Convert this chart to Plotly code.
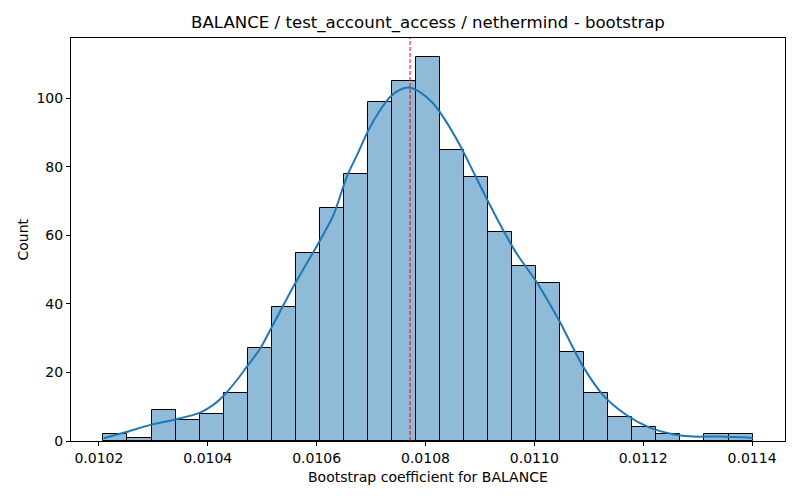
import numpy as np
import plotly.graph_objects as go

# histogram counts (27 bins)
counts = [2, 1, 9, 6, 8, 14, 27, 39, 55, 68, 78, 99, 105, 112,
          85, 77, 61, 51, 46, 26, 14, 7, 4, 2, 0, 2, 2]
bin_lo = 0.0102083
bin_hi = 0.0114009

# kde curve
kde_x = [0.0102088, 0.0102517, 0.0102945, 0.0103404, 0.0103862, 0.0104107,
         0.0104290, 0.0104536, 0.0104719, 0.0104964, 0.0105178, 0.0105606,
         0.0106064, 0.0106308, 0.0106554, 0.0106767, 0.0106951, 0.0107165,
         0.0107349, 0.0107532, 0.0107716, 0.0107899, 0.0108143, 0.0108327,
         0.0108633, 0.0108908, 0.0109153, 0.0109428, 0.0109674, 0.0110041,
         0.0110224, 0.0110468, 0.0110896, 0.0111262, 0.0111692, 0.0112120,
         0.0112547, 0.0112914, 0.0113404, 0.0114009]
kde_y = [0.8, 2.7, 4.7, 6.3, 8.3, 10.6, 13.2, 17.8, 21.7, 27.0, 33.3, 46.0,
         58.6, 65.9, 77.1, 84.3, 90.7, 96.5, 100.4, 102.5, 103.1, 101.8,
         98.5, 94.5, 86.3, 77.6, 69.8, 61.5, 54.7, 46.4, 41.6, 34.8, 21.7,
         13.4, 7.6, 3.9, 2.0, 1.3, 1.3, 0.9]

mean_coef = 0.0107716
x_ticks = [0.0102, 0.0104, 0.0106, 0.0108, 0.0110, 0.0112, 0.0114]
y_ticks = [0, 20, 40, 60, 80, 100]

edges = np.linspace(bin_lo, bin_hi, len(counts) + 1)
centers = (edges[:-1] + edges[1:]) / 2
width = edges[1] - edges[0]

fig = go.Figure()
fig.add_trace(go.Bar(x=centers, y=counts, width=width,
                     marker=dict(color="rgba(31,119,180,0.5)",
                                 line=dict(color="black", width=1)),
                     showlegend=False))
fig.add_trace(go.Scatter(x=kde_x, y=kde_y, mode="lines",
                         line=dict(color="#1f77b4", width=2,
                                   shape="spline", smoothing=0.8),
                         showlegend=False))
fig.add_shape(type="line", x0=mean_coef, x1=mean_coef, y0=0, y1=1,
              xref="x", yref="paper",
              line=dict(color="red", width=1, dash="4px,2px"))

# axis titles placed like matplotlib's
fig.add_annotation(text="Bootstrap coefficient for BALANCE",
                   xref="paper", yref="paper", x=0.5, y=-0.089,
                   xanchor="center", yanchor="middle", showarrow=False,
                   font=dict(size=14))
fig.add_annotation(text="Count", textangle=-90,
                   xref="paper", yref="paper", x=-0.0686, y=0.5,
                   xanchor="center", yanchor="middle", showarrow=False,
                   font=dict(size=14))

span = bin_hi - bin_lo
fig.update_layout(
    width=800, height=500,
    margin=dict(l=71, r=15, t=38, b=59, autoexpand=False),
    plot_bgcolor="white", paper_bgcolor="white",
    font=dict(family="DejaVu Sans", size=14, color="black"),
    title=dict(text="BALANCE / test_account_access / nethermind - bootstrap",
               x=0.5, xref="paper", xanchor="center",
               y=1 - 22 / 500, yanchor="middle",
               font=dict(size=16.6)),
    bargap=0,
)
fig.update_xaxes(range=[bin_lo - 0.05 * span, bin_hi + 0.05 * span],
                 tickvals=x_ticks, tickformat=".4f", automargin=False,
                 showgrid=False, zeroline=False,
                 showline=True, linecolor="black", linewidth=1, mirror=True,
                 ticks="outside", ticklen=4, tickcolor="black")
fig.update_yaxes(range=[0, max(counts) * 1.05],
                 tickvals=y_ticks, automargin=False,
                 showgrid=False, zeroline=False,
                 showline=True, linecolor="black", linewidth=1, mirror=True,
                 ticks="outside", ticklen=4, tickcolor="black")

# drop the browser's default 8px body margin so the figure sits at 0,0
fig.write_html("out.html", config=dict(displayModeBar=False),
               post_script="document.body.style.margin='0';")
